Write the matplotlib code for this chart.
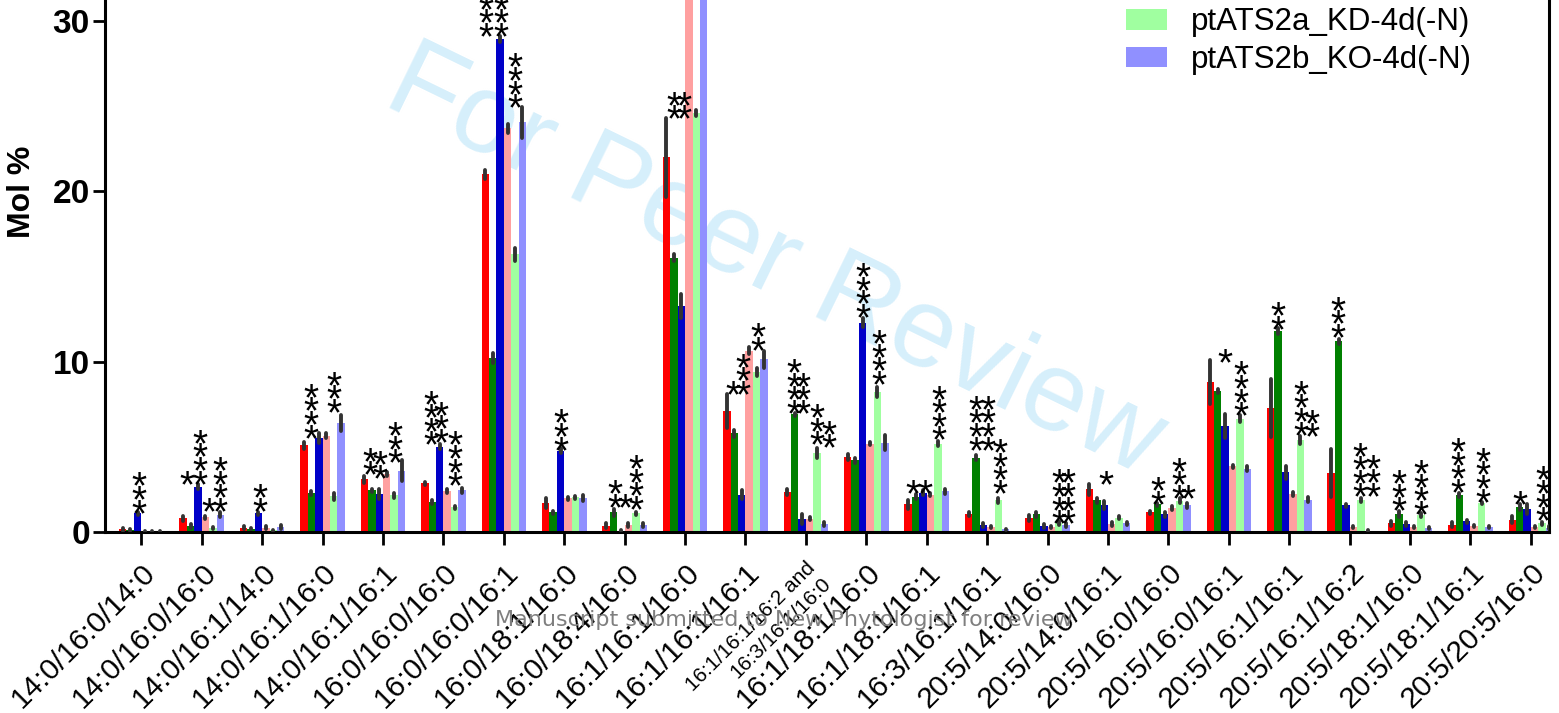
import numpy as np
import matplotlib
matplotlib.use("Agg")
import matplotlib.pyplot as plt

plt.rcParams['font.family'] = ['Liberation Sans', 'DejaVu Sans']

categories = ["14:0/16:0/14:0", "14:0/16:0/16:0", "14:0/16:1/14:0", "14:0/16:1/16:0",
              "14:0/16:1/16:1", "16:0/16:0/16:0", "16:0/16:0/16:1", "16:0/18:1/16:0",
              "16:0/18:4/16:0", "16:1/16:1/16:0", "16:1/16:1/16:1",
              "16:1/16:1/16:2 and\n16:3/16:1/16:0", "16:1/18:1/16:0", "16:1/18:1/16:1",
              "16:3/16:1/16:1", "20:5/14:0/16:0", "20:5/14:0/16:1", "20:5/16:0/16:0",
              "20:5/16:0/16:1", "20:5/16:1/16:1", "20:5/16:1/16:2", "20:5/18:1/16:0",
              "20:5/18:1/16:1", "20:5/20:5/16:0"]

series = ["WT(+N)", "ptATS2a_KD(+N)", "ptATS2b_KO(+N)",
          "WT-4d(-N)", "ptATS2a_KD-4d(-N)", "ptATS2b_KO-4d(-N)"]
colors = ["#ff0000", "#008000", "#0000c8", "#ffa0a0", "#a0ffa0", "#9090ff"]

wt = [0.15, 0.8, 0.25, 5.1, 3.1, 2.85, 21.0, 1.72, 0.36, 22.0, 7.13, 2.35,
      4.4, 1.62, 1.05, 0.82, 2.5, 1.15, 8.8, 7.28, 3.46, 0.5, 0.42, 0.71]
kd = [0.1, 0.35, 0.2, 2.3, 2.45, 1.75, 10.2, 1.15, 1.15, 16.1, 5.8, 6.9,
      4.2, 2.08, 4.35, 1.05, 1.87, 1.62, 8.27, 11.8, 11.2, 1.05, 2.18, 1.47]
ko = [1.1, 2.65, 1.1, 5.5, 2.25, 5.0, 28.95, 4.76, 0.08, 13.25, 2.2, 0.78,
      12.3, 2.3, 0.4, 0.36, 1.57, 1.05, 6.23, 3.5, 1.57, 0.46, 0.63, 1.36]
wt_n = [0.05, 0.85, 0.25, 5.65, 3.4, 2.4, 23.7, 1.97, 0.42, 33.0, 10.65, 0.78,
        5.18, 2.2, 0.3, 0.3, 0.46, 1.4, 3.86, 2.24, 0.3, 0.3, 0.36, 0.29]
kd_n = [0.05, 0.25, 0.1, 2.1, 2.15, 1.45, 16.3, 2.03, 1.09, 24.6, 9.4, 4.65,
        8.22, 5.18, 1.85, 0.52, 0.84, 1.83, 6.65, 5.39, 1.87, 0.99, 1.72, 0.5]
ko_n = [0.05, 1.0, 0.3, 6.4, 3.6, 2.45, 24.05, 2.0, 0.42, 34.0, 10.15, 0.46,
        5.24, 2.4, 0.15, 0.4, 0.5, 1.57, 3.71, 1.89, 0.08, 0.25, 0.31, 0.25]

wt_err = [0.1, 0.15, 0.1, 0.2, 0.2, 0.1, 0.25, 0.3, 0.15, 2.3, 1.0, 0.15,
          0.15, 0.25, 0.1, 0.2, 0.3, 0.1, 1.3, 1.7, 1.4, 0.15, 0.15, 0.2]
kd_err = [0.05, 0.1, 0.05, 0.1, 0.1, 0.1, 0.3, 0.1, 0.2, 0.2, 0.2, 0.1,
          0.15, 0.15, 0.15, 0.15, 0.15, 0.1, 0.1, 0.15, 0.15, 0.2, 0.1, 0.2]
ko_err = [0.1, 0.15, 0.1, 0.3, 0.3, 0.15, 0.15, 0.15, 0.05, 0.7, 0.25, 0.3,
          0.25, 0.15, 0.1, 0.1, 0.25, 0.15, 0.7, 0.4, 0.1, 0.1, 0.1, 0.3]
wt_n_err = [0.03, 0.1, 0.1, 0.15, 0.1, 0.1, 0.25, 0.1, 0.1, 0.0, 0.2, 0.1,
            0.1, 0.1, 0.05, 0.05, 0.1, 0.1, 0.1, 0.1, 0.05, 0.05, 0.05, 0.05]
kd_n_err = [0.03, 0.05, 0.03, 0.2, 0.15, 0.1, 0.4, 0.1, 0.1, 0.2, 0.25, 0.3,
            0.3, 0.15, 0.15, 0.1, 0.1, 0.15, 0.2, 0.25, 0.1, 0.1, 0.05, 0.1]
ko_n_err = [0.03, 0.15, 0.1, 0.45, 0.6, 0.15, 0.9, 0.2, 0.1, 0.0, 0.5, 0.1,
            0.45, 0.15, 0.05, 0.1, 0.1, 0.15, 0.15, 0.15, 0.05, 0.05, 0.05, 0.1]

# significance marks: (category index, bar slot, value at lowest star, number of stars)
stars = [
    (0, 2.2, 1.5, 3),
    (1, 0.5, 3.2, 1), (1, 2.3, 3.2, 4), (1, 3.5, 1.6, 1), (1, 5.0, 1.6, 4),
    (2, 2.15, 1.6, 2),
    (3, 1.0, 5.9, 4), (3, 4.0, 7.4, 3),
    (4, 0.7, 3.75, 2), (4, 2.1, 3.55, 2), (4, 4.1, 4.45, 3),
    (5, 0.85, 5.5, 4), (5, 2.2, 5.65, 3), (5, 4.1, 3.1, 4),
    (6, 0.1, 29.5, 4), (6, 2.15, 29.5, 4), (6, 3.95, 25.3, 4),
    (7, 2.0, 5.2, 3),
    (8, 1.15, 1.83, 2), (8, 2.6, 1.83, 1), (8, 4.05, 1.72, 4),
    (9, 1.0, 24.65, 2), (9, 2.35, 24.65, 2),
    (10, 0.8, 8.47, 1), (10, 2.15, 8.47, 3), (10, 4.2, 11.05, 2),
    (11, 0.95, 7.35, 4), (11, 2.15, 7.35, 3), (11, 4.0, 5.5, 3), (11, 5.55, 5.33, 2),
    (12, 2.05, 13.0, 4), (12, 4.25, 9.06, 4),
    (13, 0.7, 2.66, 1), (13, 2.3, 2.66, 1), (13, 4.1, 5.8, 4),
    (14, 1.05, 5.2, 4), (14, 2.55, 5.2, 4), (14, 4.2, 2.65, 4),
    (15, 4.0, 0.88, 4), (15, 5.25, 0.88, 4),
    (16, 2.2, 3.2, 1),
    (17, 1.15, 2.0, 2), (17, 3.95, 2.35, 3), (17, 5.2, 2.35, 1),
    (18, 1.95, 10.35, 1), (18, 4.1, 7.22, 4),
    (19, 1.0, 12.3, 2), (19, 4.1, 6.08, 4), (19, 5.55, 5.98, 2),
    (20, 0.95, 11.82, 3), (20, 3.95, 2.45, 4), (20, 5.65, 2.5, 3),
    (21, 0.97, 1.63, 3), (21, 4.0, 1.41, 4),
    (22, 0.85, 2.71, 4), (22, 4.25, 2.14, 4),
    (23, 1.1, 2.03, 1), (23, 4.15, 1.05, 4),
]

values = [wt, kd, ko, wt_n, kd_n, ko_n]
errors = [wt_err, kd_err, ko_err, wt_n_err, kd_n_err, ko_n_err]

fig = plt.figure(figsize=(15.59, 7.13), dpi=100)
ax = fig.add_axes([0.0674, 0.2539, 0.9262, 0.7461])

x = np.arange(len(categories))
w = 0.123
for i in range(6):
    xs = x + (i - 2.5) * w
    ax.bar(xs, values[i], width=w, color=colors[i], label=series[i], zorder=2)
    eb = ax.errorbar(xs, values[i], yerr=errors[i], fmt='none', ecolor='#333333',
                     elinewidth=2.8, capsize=0, zorder=3)
    eb.lines[2][0].set_capstyle('round')

star_size = 28
for g, slot, v, n in stars:
    sx = g + (slot - 2.5) * w
    for k in range(n):
        ax.annotate('*', xy=(sx, v), xytext=(0, k * 9.8 - 0.5 * star_size),
                    textcoords='offset points', ha='center', va='baseline',
                    fontsize=star_size, color='black', annotation_clip=False, zorder=4)

ax.set_xlim(-0.6, 23.3)
ax.set_ylim(0, 31.24)
ax.set_yticks([0, 10, 20, 30])
ax.set_ylabel('Mol %', fontsize=23, fontweight='bold')
ax.yaxis.set_label_coords(-0.047, 0.64)
for lab in ax.get_yticklabels():
    lab.set_fontweight('bold')
    lab.set_fontsize(24)

ax.set_xticks(x)
ax.set_xticklabels(categories, rotation=45, ha='right', rotation_mode='anchor', fontsize=21.5)
ax.get_xticklabels()[11].set_fontsize(15)
ax.tick_params(axis='both', direction='out', length=9, width=2)
ax.tick_params(axis='x', pad=10)
ax.tick_params(axis='y', pad=2)

ax.spines['top'].set_visible(False)
for s in ['left', 'bottom', 'right']:
    ax.spines[s].set_linewidth(2.2)

ax.legend(loc='lower left', bbox_to_anchor=(0.7223, 0.895), bbox_transform=fig.transFigure,
          frameon=False, fontsize=22.5, borderpad=0, borderaxespad=0,
          handlelength=1.3, handleheight=0.64, handletextpad=0.77, labelspacing=0.24)

ax.text(0.497, 0.63, 'For Peer Review', transform=fig.transFigure, fontsize=82,
        color='#d6effb', rotation=-26, ha='center', va='center',
        rotation_mode='anchor', zorder=0, clip_on=False)
fig.text(0.5025, 0.13, 'Manuscript submitted to New Phytologist for review',
         fontsize=16, color='#7f7f7f', ha='center', va='center',
         family=['Liberation Sans Narrow', 'DejaVu Sans'])

fig.savefig('out.png', dpi=100)
